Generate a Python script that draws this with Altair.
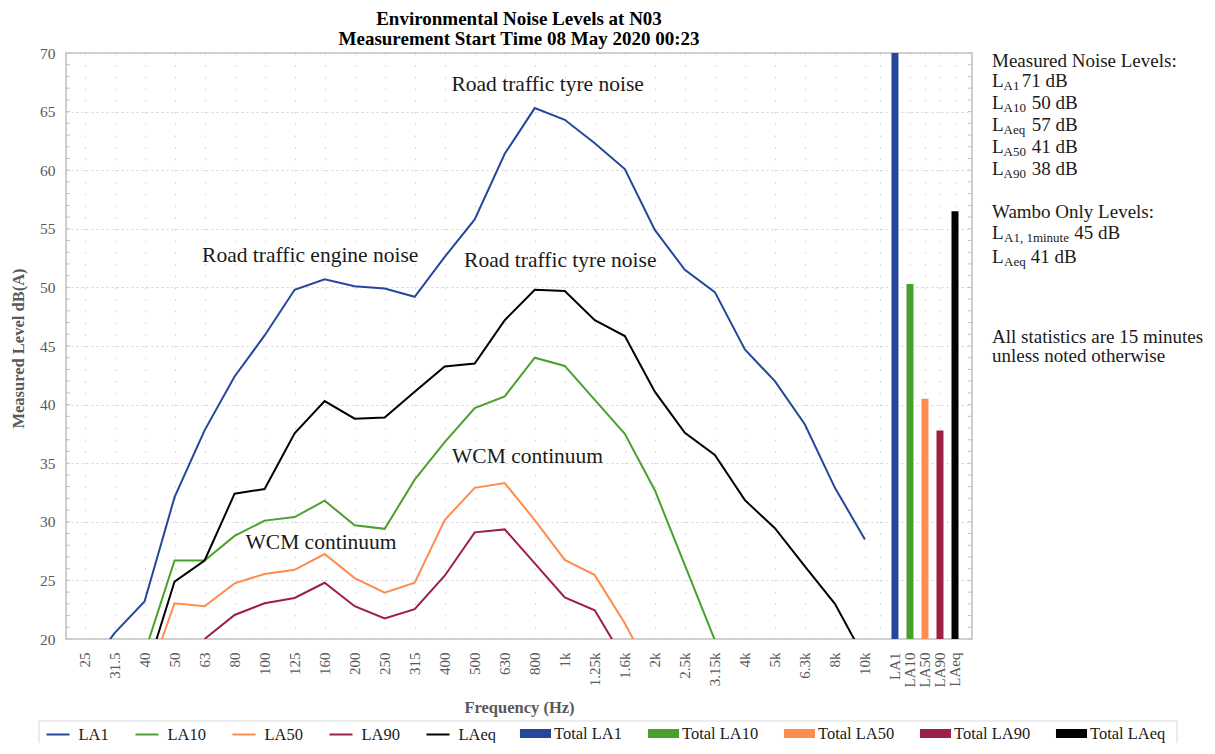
import altair as alt
import pandas as pd

# ---------------- data ----------------
freqs = ["25", "31.5", "40", "50", "63", "80", "100", "125", "160", "200", "250",
         "315", "400", "500", "630", "800", "1k", "1.25k", "1.6k", "2k", "2.5k",
         "3.15k", "4k", "5k", "6.3k", "8k", "10k"]
total_names = ["LA1", "LA10", "LA50", "LA90", "LAeq"]

la1 = [17.0, 20.5, 23.2, 32.1, 37.8, 42.4, 45.9, 49.8, 50.7, 50.1, 49.9, 49.2, 52.6,
       55.8, 61.4, 65.3, 64.3, 62.3, 60.1, 54.9, 51.5, 49.6, 44.7, 42.0, 38.3, 32.9, 28.5]
la10 = [None, None, 18.8, 26.7, 26.7, 28.8, 30.1, 30.4, 31.8, 29.7, 29.4, 33.6, 36.8,
        39.7, 40.7, 44.0, 43.3, 40.4, 37.5, 32.7, 26.3, 19.9, None, None, None, None, None]
la50 = [None, None, 15.8, 23.05, 22.8, 24.75, 25.55, 25.9, 27.25, 25.2, 23.95, 24.8, 30.15,
        32.9, 33.3, 30.15, 26.75, 25.45, 21.35, 16.5, None, None, None, None, None, None, None]
la90 = [None, None, None, None, 20.0, 22.05, 23.05, 23.5, 24.8, 22.8, 21.75, 22.55, 25.4,
        29.1, 29.35, 26.45, 23.55, 22.45, 18.15, None, None, None, None, None, None, None, None]
laeq = [None, None, 16.7, 24.9, 26.7, 32.4, 32.8, 37.55, 40.3, 38.8, 38.9, 41.1, 43.25,
        43.5, 47.2, 49.8, 49.7, 47.2, 45.85, 41.1, 37.6, 35.7, 31.85, 29.45, 26.2, 23.0, 18.3]

total_values = [71.0, 50.3, 40.5, 37.8, 56.5]

series_names = ["LA1", "LA10", "LA50", "LA90", "LAeq"]
series_values = [la1, la10, la50, la90, laeq]
colors = ["#25479b", "#4aa02c", "#fd8d4e", "#9c1f45", "#000000"]

# category positions: frequencies one unit apart, total bars half a unit apart
freq_pos = list(range(len(freqs)))
total_pos = [27 + 0.5 * i for i in range(len(total_names))]

rows = []
for name, vals in zip(series_names, series_values):
    for p, v in zip(freq_pos, vals):
        if v is not None:
            rows.append({"pos": p, "val": v, "series": name})
line_df = pd.DataFrame(rows)

total_series = ["Total " + n for n in total_names]
bar_df = pd.DataFrame({"pos": total_pos, "val": total_values, "series": total_series})

minor_df = pd.DataFrame({"val": list(range(20, 71))})

annotations = [
    ("Road traffic tyre noise", 15.43, 66.76),
    ("Road traffic engine noise", 7.52, 52.17),
    ("Road traffic tyre noise", 15.85, 51.77),
    ("WCM continuum", 14.76, 35.04),
    ("WCM continuum", 7.88, 27.68),
]
ann_df = pd.DataFrame(annotations, columns=["text", "pos", "val"])

# ---------------- styling ----------------
SERIF = "Liberation Serif"
W, H = 906, 586
OX, OY = 66, 53  # plot origin on page

grid_vals = freq_pos + [26.5] + total_pos
lab = [""] * 60
for i, f in enumerate(freqs):
    lab[2 * i] = f
for i, n in enumerate(total_names):
    lab[54 + i] = n
label_expr = "[" + ",".join("'%s'" % s for s in lab) + "][round(datum.value*2)]"

xscale = alt.Scale(domain=[-0.45, 29.4], nice=False, zero=False)
yscale = alt.Scale(domain=[20, 70], nice=False, zero=False)

xaxis = alt.Axis(values=grid_vals, labelExpr=label_expr, labelAngle=-90,
                 labelOverlap=False, labelFlush=False, labelBound=False, grid=True,
                 gridDash=[1.5, 10.2], gridColor="#cfcfcf", gridWidth=1,
                 ticks=False, domain=False, labelPadding=13,
                 labelFont=SERIF, labelFontSize=15, labelColor="#595959",
                 title="Frequency (Hz)", titleFont=SERIF, titleFontSize=16.5,
                 titleFontWeight="bold", titleColor="#595959",
                 titleY=68, titleBaseline="middle")
yaxis = alt.Axis(values=list(range(20, 71, 5)), grid=True, gridDash=[2, 3],
                 gridColor="#d4d4d4", gridWidth=1, ticks=False, domain=False,
                 labelPadding=11, labelFlush=False, labelOverlap=False, labelFont=SERIF,
                 labelFontSize=15.5, labelColor="#595959",
                 title="Measured Level dB(A)", titleFont=SERIF,
                 titleFontSize=16.5, titleFontWeight="bold", titleColor="#595959",
                 titleX=-48, titleY=295, titleBaseline="middle", titleAlign="center")


def X(field="pos"):
    return alt.X(field + ":Q", scale=xscale, axis=xaxis)


def Y(field="val"):
    return alt.Y(field + ":Q", scale=yscale, axis=yaxis)


rect_path = "M-1.35,-0.4H1.35V0.4H-1.35Z"
LEG_Y = 669
line_legend = alt.Legend(
    orient="none", legendX=-20.5, legendY=LEG_Y, direction="horizontal", columns=5,
    columnPadding=22, symbolSize=529, symbolType="stroke", symbolStrokeWidth=2,
    labelFont=SERIF, labelFontSize=16.5, labelColor="#1a1a1a", labelOffset=8,
    padding=0, title=None)
bar_legend = alt.Legend(
    orient="none", legendX=458, legendY=LEG_Y, direction="horizontal", columns=5,
    columnPadding=24, symbolSize=529, symbolType=rect_path, symbolStrokeWidth=0,
    labelFont=SERIF, labelFontSize=16.5, labelColor="#1a1a1a", labelOffset=7,
    padding=0, title=None)

lines = alt.Chart(line_df).mark_line(strokeWidth=2, clip=True).encode(
    x=X(), y=Y(),
    stroke=alt.Stroke("series:N", scale=alt.Scale(domain=series_names, range=colors),
                      legend=line_legend),
)

bars = alt.Chart(bar_df).mark_bar(size=7, clip=True, strokeWidth=0).encode(
    x=X(), y=Y(), y2=alt.datum(20),
    fill=alt.Fill("series:N", scale=alt.Scale(domain=total_series, range=colors),
                  legend=bar_legend),
)

minor_left = alt.Chart(minor_df).mark_rule(color="#bfbfbf", strokeWidth=1).encode(
    y=Y(), x=alt.value(0), x2=alt.value(4))
minor_right = alt.Chart(minor_df).mark_rule(color="#bfbfbf", strokeWidth=1).encode(
    y=Y(), x=alt.value(W - 4), x2=alt.value(W))

ann = alt.Chart(ann_df).mark_text(font=SERIF, fontSize=21.5, color="#1a1a1a",
                                  align="center", baseline="alphabetic").encode(
    x=X(), y=Y(), text="text:N")

# legend frame
legend_box = alt.Chart(alt.Data(values=[{}])).mark_rect(
    fill="white", fillOpacity=0, stroke="#d9d9d9", strokeWidth=1).encode(
    x=alt.value(39 - OX), x2=alt.value(1177 - OX),
    y=alt.value(721 - OY), y2=alt.value(770 - OY))


def txt(s, px, py, size=19, color="#1a1a1a"):
    return alt.Chart(alt.Data(values=[{}])).mark_text(
        text=s, font=SERIF, fontSize=size, color=color, align="left",
        baseline="alphabetic").encode(x=alt.value(px - OX), y=alt.value(py - OY))


panel = []
panel.append(txt("Measured Noise Levels:", 992, 66.7))
stat_rows = [("A1", "71 dB", 87.3, 1021.7), ("A10", "50 dB", 109, 1031.7),
             ("Aeq", "57 dB", 130.7, 1031.7), ("A50", "41 dB", 153, 1031.7),
             ("A90", "38 dB", 175, 1031.7)]
for sub, val, by, vx in stat_rows:
    panel.append(txt("L", 992, by))
    panel.append(txt(sub, 1003.5, by + 3, size=13))
    panel.append(txt(val, vx, by))
panel.append(txt("Wambo Only Levels:", 992, 218))
panel.append(txt("L", 992, 239))
panel.append(txt("A1, 1minute", 1004, 242, size=13))
panel.append(txt("45 dB", 1074.3, 239))
panel.append(txt("L", 992, 263))
panel.append(txt("Aeq", 1004, 266, size=13))
panel.append(txt("41 dB", 1030.7, 263))
panel.append(txt("All statistics are 15 minutes", 992, 343))
panel.append(txt("unless noted otherwise", 992, 362))

chart = alt.layer(legend_box, lines, bars, minor_left, minor_right, ann, *panel).properties(
    width=W, height=H,
    title=alt.Title(text=["Environmental Noise Levels at N03",
                          "Measurement Start Time 08 May 2020 00:23"],
                    font=SERIF, fontSize=19, fontWeight="bold", color="#000000",
                    anchor="middle", frame="group", offset=4, dy=7, lineHeight=20.5),
    padding={"left": 58, "top": 45, "right": 235, "bottom": 104},
    autosize=alt.AutoSizeParams(type="none"),
).resolve_scale(stroke="independent", fill="independent"
).configure_view(stroke="#bfbfbf", strokeWidth=1.5
).configure_axis(labelOverlap=False)

chart.save("out.html", embed_options={"renderer": "svg", "actions": False})
